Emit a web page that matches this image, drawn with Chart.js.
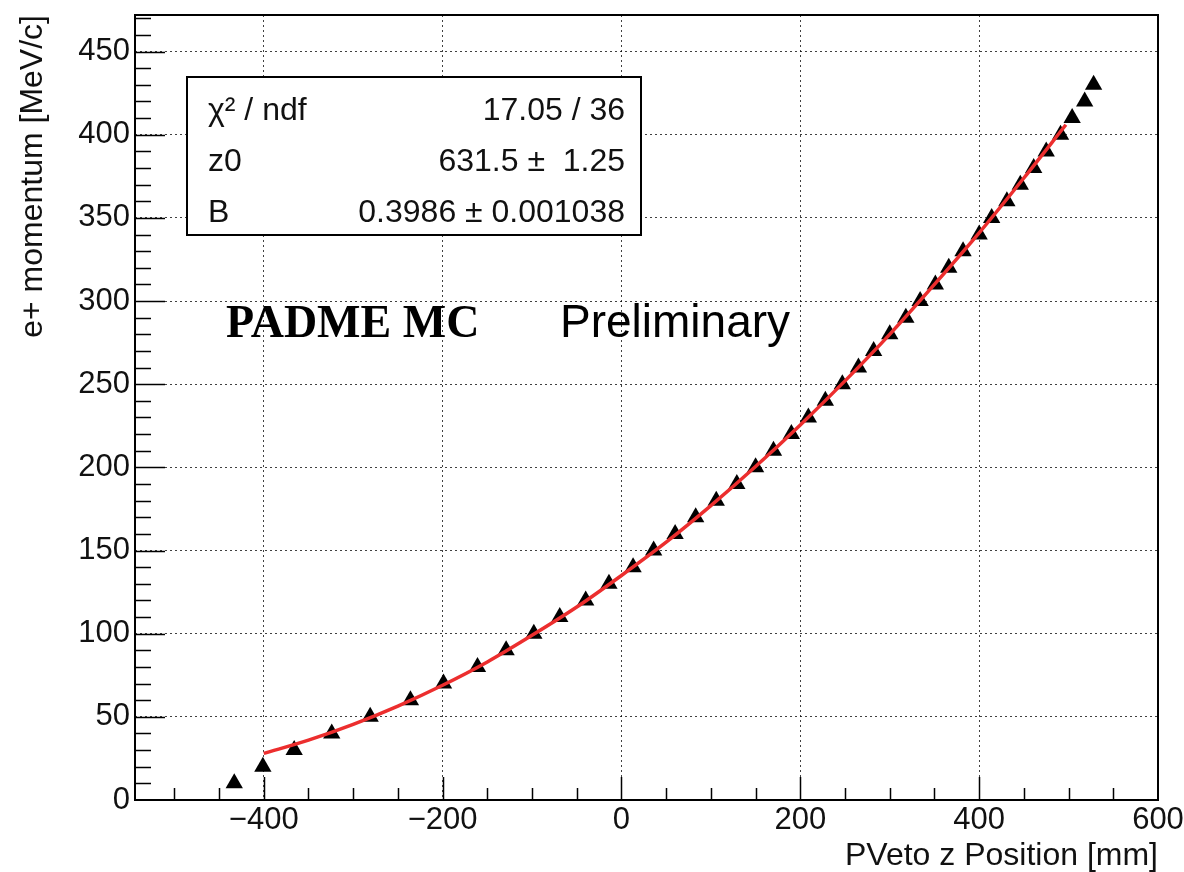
<!DOCTYPE html>
<html>
<head>
<meta charset="utf-8">
<title>PADME MC - e+ momentum vs PVeto z</title>
<script src="https://cdn.jsdelivr.net/npm/chart.js@4.4.1/dist/chart.umd.min.js"></script>
<style>
  html, body { margin: 0; padding: 0; background: #fff; }
  #wrap { width: 1184px; height: 872px; }
</style>
</head>
<body>
<div id="wrap"><canvas id="pvetoChart" width="1184" height="872"></canvas></div>
<script>
// e+ momentum vs PVeto z position (PADME MC, preliminary)

// Graph points: momentum [MeV/c] and the z [mm] where each one sits
const momentum = [10, 20, 30, 40, 50, 60, 70, 80, 90, 100,
  110, 120, 130, 140, 150, 160, 170, 180, 190, 200,
  210, 220, 230, 240, 250, 260, 270, 280, 290, 300,
  310, 320, 330, 340, 350, 360, 370, 380, 390, 400,
  410, 420, 430];
const zPosition = [-433, -401, -366, -324, -281, -236, -199, -161, -129, -98,
  -69, -40, -14, 13, 36, 60, 83, 106, 129, 150,
  170, 190, 209, 228, 247, 265, 282, 300, 318, 334,
  351, 366, 382, 400, 414, 431, 446, 461, 475, 491,
  504, 518, 528];

// Fit curve
const fitZ = [-400, -350, -300, -250, -200, -150, -100, -50, 0, 50,
  100, 150, 200, 250, 300, 350, 400, 450, 497];
const fitP = [28, 36, 45.5, 56.5, 69, 83, 99, 116, 135, 155,
  177, 200.5, 225.5, 252, 280, 310, 341, 374, 406];

const xTicks = [-400, -200, 0, 200, 400, 600];
const yTicks = [0, 50, 100, 150, 200, 250, 300, 350, 400, 450];

const statsRows = [
  ['χ² / ndf', '17.05 / 36'],
  ['z0', '631.5 ±  1.25'],
  ['B', '0.3986 ± 0.001038']
];

const SANS = '"Liberation Sans", Arial, Helvetica, sans-serif';
const SERIF = '"Liberation Serif", "Times New Roman", serif';

Chart.defaults.font.family = SANS;
Chart.defaults.color = '#000';

// ROOT-like frame: inward ticks, stats box and labels
const rootFrame = {
  id: 'rootFrame',
  afterDatasetsDraw(chart) {
    const { ctx, chartArea: a, scales: { x, y } } = chart;
    ctx.save();
    ctx.strokeStyle = '#000';
    ctx.lineWidth = 1.5;

    // x ticks every 50, major every 200
    ctx.beginPath();
    for (let v = -500; v <= 550; v += 50) {
      const px = Math.round(x.getPixelForValue(v)) + 0.5;
      const len = v % 200 === 0 ? 23 : 12;
      ctx.moveTo(px, a.bottom);
      ctx.lineTo(px, a.bottom - len);
    }
    // y ticks every 10, major every 50
    for (let v = 10; v <= 470; v += 10) {
      const py = Math.round(y.getPixelForValue(v)) + 0.5;
      const len = v % 50 === 0 ? 30 : 16;
      ctx.moveTo(a.left, py);
      ctx.lineTo(a.left + len, py);
    }
    ctx.stroke();

    // frame
    ctx.lineWidth = 2;
    ctx.strokeRect(a.left, a.top, a.right - a.left, a.bottom - a.top);

    // stats box
    const bx = a.left + 52, by = a.top + 62, bw = 454, bh = 158;
    ctx.fillStyle = '#fff';
    ctx.fillRect(bx, by, bw, bh);
    ctx.strokeRect(bx, by, bw, bh);
    ctx.fillStyle = '#111';
    ctx.font = '32px ' + SANS;
    ctx.textBaseline = 'alphabetic';
    statsRows.forEach((row, i) => {
      const base = by + 43 + i * 51;
      ctx.textAlign = 'left';
      ctx.fillText(row[0], bx + 21, base);
      ctx.textAlign = 'right';
      ctx.fillText(row[1], bx + bw - 16, base);
    });

    // labels
    ctx.textAlign = 'left';
    ctx.fillStyle = '#000';
    ctx.font = 'bold 46px ' + SERIF;
    ctx.fillText('PADME MC', 226, 337);
    ctx.font = '46px ' + SANS;
    ctx.fillText('Preliminary', 560, 337);

    ctx.restore();
  }
};

const gridStyle = {
  color: 'rgba(0, 0, 0, 0.75)',
  lineWidth: 1,
  drawTicks: false
};

new Chart(document.getElementById('pvetoChart'), {
  type: 'scatter',
  data: {
    datasets: [
      {
        label: 'fit',
        data: fitZ.map((z, i) => ({ x: z, y: fitP[i] })),
        showLine: true,
        borderColor: 'rgb(236, 46, 46)',
        borderWidth: 3.5,
        pointRadius: 0,
        cubicInterpolationMode: 'monotone',
        order: 1
      },
      {
        label: 'e+ momentum',
        data: zPosition.map((z, i) => ({ x: z, y: momentum[i] })),
        pointStyle: 'triangle',
        pointRadius: 10,
        backgroundColor: '#000',
        borderWidth: 0,
        order: 2
      }
    ]
  },
  options: {
    responsive: false,
    animation: false,
    devicePixelRatio: 1,
    layout: { padding: { left: 0, right: 26, top: 15, bottom: 0 } },
    plugins: {
      legend: { display: false },
      tooltip: { enabled: false }
    },
    scales: {
      x: {
        type: 'linear',
        min: -544,
        max: 600,
        afterBuildTicks: (s) => { s.ticks = xTicks.map(v => ({ value: v })); },
        afterFit: (s) => { s.height = 72; s.paddingLeft = 0; s.paddingRight = 0; },
        grid: gridStyle,
        border: { display: false, dash: [2, 3] },
        ticks: {
          autoSkip: false,
          maxRotation: 0,
          padding: 5,
          color: '#111',
          font: { size: 31, lineHeight: 1 },
          callback: (v) => (v < 0 ? '\u2212' + Math.abs(v) : String(v))
        },
        title: {
          display: true,
          text: 'PVeto z Position [mm]',
          align: 'end',
          color: '#111',
          font: { size: 32, lineHeight: 1 },
          padding: { top: 0, bottom: 0 }
        }
      },
      y: {
        type: 'linear',
        min: 0,
        max: 472,
        afterBuildTicks: (s) => { s.ticks = yTicks.map(v => ({ value: v })); },
        afterFit: (s) => { s.width = 135; s.paddingTop = 0; s.paddingBottom = 0; },
        grid: gridStyle,
        border: { display: false, dash: [2, 3] },
        ticks: {
          padding: 5,
          color: '#111',
          font: { size: 31, lineHeight: 1 }
        },
        title: {
          display: true,
          text: 'e+ momentum [MeV/c]',
          align: 'end',
          color: '#111',
          font: { size: 32, lineHeight: 1 },
          padding: { top: 17, bottom: 0 }
        }
      }
    }
  },
  plugins: [rootFrame]
});
</script>
</body>
</html>
